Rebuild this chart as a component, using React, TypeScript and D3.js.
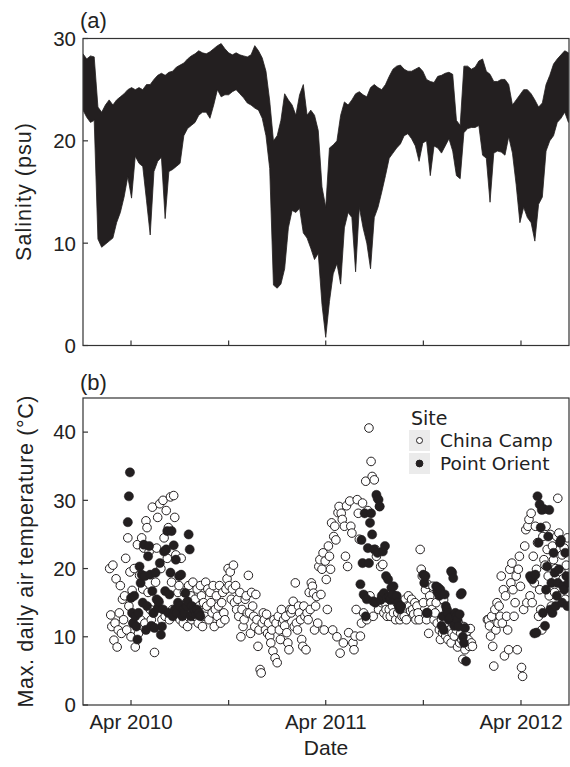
import React from "react";
import * as d3 from "d3";

// ---------- data ----------

// salinity: weekly upper / lower envelope of the high-frequency record
const salinityStart = "2010-01-01";
const salinityStepDays = 7;
const salinityHigh = [
  28.5, 28.0, 28.3, 28.2, 23.3, 22.8, 23.5, 24.0, 23.5, 24.0,
  24.3, 24.6, 25.0, 25.2, 25.0, 25.2, 25.0, 25.5, 25.5, 26.0,
  26.4, 26.6, 26.4, 26.7, 26.8, 27.2, 27.4, 27.6, 28.0, 28.3,
  28.5, 28.8, 28.6, 28.5, 28.7, 29.0, 29.3, 29.5, 29.0, 28.6,
  28.4, 28.6, 28.4, 28.3, 28.2, 28.4, 29.3, 28.8, 28.1, 26.8,
  23.9, 20.0, 20.5, 22.0, 24.6, 24.0, 23.5, 22.5, 24.5, 25.5,
  22.5, 23.0, 22.5, 21.0, 15.5, 13.5, 19.3, 19.6, 20.0, 22.5,
  23.8, 23.5, 24.0, 24.6, 24.8, 24.5, 24.3, 25.2, 25.5, 25.2,
  25.0, 25.5, 26.3, 27.0, 27.3, 27.4, 27.0, 26.8, 26.8, 27.0,
  27.2, 26.8, 26.0, 25.8, 25.7, 26.3, 26.4, 26.6, 26.7, 26.5,
  22.0, 21.5, 27.3, 27.3, 27.0, 27.2, 27.8, 28.0, 26.8, 26.5,
  25.8, 25.8, 26.0, 26.0, 25.5, 23.5, 24.0, 24.5, 25.0, 25.0,
  24.6, 24.0, 23.3, 23.7, 25.5, 26.4, 27.5, 28.0, 28.4, 28.8,
  28.6,
];
const salinityLow = [
  23.0, 22.3, 21.8, 22.0, 10.4, 9.6, 9.9, 10.2, 10.5, 12.0,
  13.0, 14.5, 16.5, 14.4, 18.5, 17.8, 17.5, 14.2, 10.8, 17.0,
  18.0, 18.4, 12.4, 17.0, 17.2, 17.5, 17.8, 20.5, 21.2, 21.5,
  21.8, 22.5, 22.8, 22.8, 22.2, 23.5, 25.0, 24.3, 24.5, 24.5,
  24.8, 25.0, 24.6, 24.2, 23.7, 23.5, 23.2, 23.0, 22.2, 20.5,
  17.3, 5.9, 5.6, 6.0, 7.5, 11.5, 13.2, 13.0, 13.4, 11.0,
  10.5, 9.5, 8.4, 9.0, 4.0, 0.8, 4.3, 7.0, 8.0, 6.0,
  11.5, 13.0, 12.5, 7.2, 13.5, 11.5, 10.0, 7.5, 12.5, 13.5,
  15.0, 16.6, 18.3, 18.8, 19.3, 19.7, 20.5, 20.7, 20.2, 19.5,
  18.0, 19.8, 20.0, 16.6, 19.5, 19.3, 18.8, 19.5, 20.2, 19.0,
  16.6, 16.3, 20.8, 21.2, 21.3, 21.3, 21.5, 18.6, 18.3, 14.0,
  18.8, 19.0, 18.9, 18.6, 20.4, 18.8, 15.7, 12.0, 13.5, 12.5,
  12.0, 10.2, 13.8, 14.5, 19.0, 20.0, 20.5, 21.8, 22.2, 22.8,
  21.8,
];

// max. daily air temperature, China Camp (every 2nd day)
const chinaCampStart = "2010-02-20";
const chinaCamp: (number | null)[] = [
  20.0, 13.2, 11.5, 20.5, 9.5, 12.0, 18.5, 8.5, 11.0, 13.5,
  17.5, 10.5, 15.5, 12.5, 16.0, 21.5, 11.0, 24.5, 14.5, 19.5,
  10.0, 16.8, 12.0, 20.0, 8.5, 13.0, 23.5, 10.5, 19.0, 12.5,
  24.5, 17.0, 23.0, 12.0, 27.0, 26.0, 16.5, 22.5, 14.0, 12.5,
  29.0, 13.5, 7.7, 18.0, 23.0, 27.5, 15.0, 29.5, 20.0, 12.5,
  30.0, 24.5, 13.0, 28.5, 21.5, 26.0, 12.5, 30.5, 18.0, 14.0,
  30.7, 27.5, 22.0, 13.0, 16.5, 17.5, 12.5, 21.5, 14.0, 12.0,
  16.5, 13.5, 15.0, 11.5, 17.5, 14.5, 16.0, 12.5, 18.0, 13.0,
  15.5, 13.0, 17.0, 12.0, 14.5, 17.5, 16.0, 11.5, 15.0, 13.0,
  18.0, 14.5, 17.0, 12.5, 16.5, 15.0, 13.5, 17.5, 11.5, 14.0,
  16.0, 13.0, 14.5, 17.5, 12.0, 15.0, 16.5, 13.5, 12.5, 17.0,
  18.5, 20.0, 17.5, 19.5, 15.5, 17.0, 20.5, 15.0, 17.5, 14.0,
  15.5, 13.0, 16.5, 10.0, 14.0, 11.5, 12.5, 15.5, 16.0, 13.5,
  19.0, 13.5, 10.5, 16.5, 14.5, 13.0, 11.5, 16.2, 12.5, 8.6,
  11.0, 5.2, 4.7, 12.0, 13.5, 12.5, 11.0, 13.3, 10.5, 12.0,
  10.1, 9.1, 11.0, 7.9, 12.5, 6.9, 12.0, 6.2, 13.0, 11.0,
  9.6, 14.0, 12.0, 12.5, 11.6, 13.0, 10.6, 9.1, 8.1, 14.0,
  13.5, 14.0, 15.2, 11.5, 17.9, 12.0, 11.0, 14.5, 13.5, 12.5,
  9.6, 8.6, 14.5, 13.0, 8.1, 13.5, 12.5, 16.5, 14.0, 17.9,
  17.4, 16.4, 11.0, 14.5, 15.9, 12.0, 20.3, 21.3, 16.2, 19.9,
  22.3, 11.0, 21.1, 18.4, 14.0, 23.3, 21.8, 19.9, 26.7, 11.0,
  24.7, 26.2, 24.2, 10.0, 28.2, 29.1, 7.6, 28.1, 27.2, 9.1,
  26.2, 21.8, 29.2, 20.3, 10.6, 29.9, 26.2, 25.2, 9.1, 8.1,
  10.1, 14.0, 30.1, 28.1, 24.3, 10.1, 12.0, 29.6, 13.5, 16.0,
  32.8, 12.5, 28.5, 40.6, 16.0, 35.7, 33.5, 13.0, 33.0, 22.8,
  21.8, 30.3, 14.0, 29.1, 20.3, 15.0, 20.6, 13.5, 15.0, 14.0,
  13.0, 16.2, 14.0, 13.0, 15.5, 14.5, 13.5, 16.0, 12.5, 15.0,
  13.5, 14.5, 12.5, 15.0, 13.0, 14.0, 13.0, 15.5, 12.5, 14.5,
  16.0, 14.5, 13.8, 15.5, 14.0, 13.3, 15.0, 12.5, 14.5, 13.5,
  12.5, 22.8, 19.9, 18.9, 15.0, 17.9, 16.9, 12.5, 17.7, 10.5,
  16.0, 15.0, 14.0, 17.4, 12.5, 13.5, 15.0, 12.0, 16.4, 11.0,
  9.6, 12.5, 10.6, 15.4, 12.0, 10.1, 14.0, 9.6, 12.5, 11.0,
  9.1, 10.5, 13.0, 10.1, 11.5, 11.0, 8.5, 12.0, 9.1, 10.5,
  9.6, 6.7, 11.5, 8.1, 10.5, 10.8, 9.6, 8.6, 11.2, 9.1,
  8.6, null, null, null, null, null, null, null, null, null,
  null, null, null, null, 12.5, 12.5, 11.6, 10.1, 13.0, 8.6,
  5.7, 14.0, 11.0, 15.0, 12.0, 14.5, 13.0, 18.9, 12.0, 16.9,
  7.2, 16.0, 13.0, 11.0, 8.1, 19.9, 17.9, 20.8, 16.9, 13.0,
  15.0, 18.9, 8.1, 19.9, 21.8, 17.4, 5.5, 4.2, 14.0, 23.3,
  25.7, 15.0, 26.2, 27.2, 16.0, 28.1, 15.0, 21.8, 17.9, 26.2,
  19.9, 23.8, 13.0, 16.9, 14.0, 11.0, 24.7, 21.3, 20.5, 26.2,
  22.8, 18.9, 16.0, 25.0, 14.5, 23.3, 21.3, 16.5, 20.0, 24.7,
  30.3, 25.2, 16.0, 19.5, 22.0, 18.5, 23.0, 15.5, 20.5, 24.5,
];

// max. daily air temperature, Point Orient (every 2nd day, four deployments)
const pointOrient2010Start = "2010-03-26";
const pointOrient2010 = [
  26.8, 30.6, 34.1, 15.7, 13.5, 12.0, 16.0, 13.0, 11.5, 9.6,
  13.5, 20.3, 17.9, 19.1, 15.0, 23.5, 18.9, 11.0, 14.5, 21.8,
  23.3, 19.1, 11.6, 16.7, 13.5, 11.3, 19.4, 15.5, 14.2, 15.2,
  20.8, 10.3, 11.5, 14.0, 22.5, 16.7, 22.8, 25.5, 13.5, 16.2,
  19.4, 25.5, 13.0, 23.4, 14.0, 21.3, 13.5, 15.0, 18.9, 14.5,
  19.1, 13.0, 14.0, 13.5, 16.4, 14.5, 15.2, 25.0, 22.8, 13.0,
  14.5, 13.5, 14.0, 13.8, 13.3, 14.0, 13.3, 13.5, 13.0,
];
const pointOrient2011aStart = "2011-06-05";
const pointOrient2011a = [
  17.7, 24.2, 20.8, 16.2, 28.1, 13.0, 15.5, 23.0, 20.8, 26.7,
  28.1, 25.0, 15.2, 22.8, 15.0, 30.8, 22.3, 30.1, 29.1, 15.4,
  16.0, 22.5, 16.4, 23.3, 18.9, 15.7, 18.4, 15.9, 15.4, 17.2,
  16.2, 17.4, 15.5, 15.4, 16.0, 15.0, 14.5, 14.0, 14.5,
];
const pointOrient2011bStart = "2011-10-01";
const pointOrient2011b: (number | null)[] = [
  19.1, 17.9, 18.9, 13.5, 13.5, null, null, null, null, null,
  null, null, 17.4, 16.7, 17.2, 16.0, 16.9, 11.6, 13.0, 11.0,
  16.2, 14.5, 14.0, 13.5, 12.5, 12.8, 19.6, 19.4, 18.6, 11.6,
  13.5, 13.0, 12.5, 11.5, 13.3, 16.2, 16.4, 10.0, 9.1, 11.3,
  6.4,
];
const pointOrient2012Start = "2012-04-18";
const pointOrient2012 = [
  18.9, 18.6, 18.4, 18.9, 10.5, 19.1, 10.6, 30.6, 23.8, 29.4,
  26.0, 28.6, 13.5, 28.7, 11.6, 16.9, 20.3, 24.7, 28.6, 14.0,
  17.9, 13.5, 22.3, 19.4, 14.5, 16.0, 17.9, 19.9, 23.8, 24.2,
  15.0, 17.4, 16.9, 22.3, 18.9, 14.5, 17.9,
];

const dateDomain = ["2010-01-01", "2012-06-30"];
const dateTicks = ["2010-04-01", "2010-10-01", "2011-04-01", "2011-10-01", "2012-04-01"];
const dateTickLabels = ["Apr 2010", "", "Apr 2011", "", "Apr 2012"];
const salinityTicks = [0, 10, 20, 30];
const temperatureTicks = [0, 10, 20, 30, 40];
const legendSites = ["China Camp", "Point Orient"];

// ---------- helpers ----------
const parse = d3.timeParse("%Y-%m-%d");

type Pt = { date: Date; value: number };
function toSeries(start: string, stepDays: number, values: (number | null)[]): Pt[] {
  const t0 = parse(start) as Date;
  const out: Pt[] = [];
  values.forEach((v, i) => {
    if (v != null) out.push({ date: d3.timeDay.offset(t0, i * stepDays), value: v });
  });
  return out;
}

const INK = "#231f20";
const TEXT = "#222";
const SANS = "'Liberation Sans', Arial, Helvetica, sans-serif";

const App = () => {
  const width = 570;
  const height = 767;
  const left = 83;
  const right = 569;
  const panelA = { top: 38.5, bottom: 345.5 };
  const panelB = { top: 398, bottom: 705 };

  const x = d3
    .scaleTime()
    .domain(dateDomain.map((d) => parse(d) as Date))
    .range([left, right]);

  const yA = d3.scaleLinear().domain([0, 30]).range([panelA.bottom, panelA.top]);
  const yB = d3.scaleLinear().domain([0, 45]).range([panelB.bottom, panelB.top]);

  const sal0 = parse(salinityStart) as Date;
  const salinity = salinityHigh.map((hi, i) => ({
    date: d3.timeDay.offset(sal0, i * salinityStepDays),
    hi,
    lo: salinityLow[i],
  }));
  const salArea = d3
    .area<{ date: Date; hi: number; lo: number }>()
    .x((d) => x(d.date))
    .y0((d) => yA(d.lo))
    .y1((d) => yA(d.hi));

  const cc = toSeries(chinaCampStart, 2, chinaCamp);
  const po = [
    ...toSeries(pointOrient2010Start, 2, pointOrient2010),
    ...toSeries(pointOrient2011aStart, 2, pointOrient2011a),
    ...toSeries(pointOrient2011bStart, 2, pointOrient2011b),
    ...toSeries(pointOrient2012Start, 2, pointOrient2012),
  ];

  const ticks = dateTicks.map((d) => parse(d) as Date);
  const tickLen = 5;

  const frame = (top: number, bottom: number) => (
    <rect
      x={left}
      y={top}
      width={right - left}
      height={bottom - top}
      fill="none"
      stroke="#333"
      strokeWidth={1.2}
    />
  );

  return (
    <svg
      width={width}
      height={height}
      style={{ position: "absolute", left: 0, top: 0, background: "#fff" }}
      fontFamily={SANS}
    >
      <defs>
        <clipPath id="clipA">
          <rect x={left} y={panelA.top} width={right - left} height={panelA.bottom - panelA.top} />
        </clipPath>
        <clipPath id="clipB">
          <rect x={left} y={panelB.top} width={right - left} height={panelB.bottom - panelB.top} />
        </clipPath>
      </defs>
      <rect width={width} height={height} fill="#fff" />

      {/* ---- panel (a) ---- */}
      <text x={80} y={28} fontSize={22} fill={TEXT}>(a)</text>
      <g clipPath="url(#clipA)">
        <path d={salArea(salinity) || ""} fill={INK} stroke={INK} strokeWidth={0.8} />
      </g>
      {frame(panelA.top, panelA.bottom)}
      {salinityTicks.map((t) => (
        <g key={"sa" + t}>
          <line x1={left} x2={left + tickLen} y1={yA(t)} y2={yA(t)} stroke="#333" strokeWidth={1.2} />
          <text x={76} y={yA(t)} dy="0.36em" textAnchor="end" fontSize={20.5} fill={TEXT}>{t}</text>
        </g>
      ))}
      {ticks.map((t, i) => (
        <line key={"xa" + i} x1={x(t)} x2={x(t)} y1={panelA.bottom} y2={panelA.bottom - tickLen} stroke="#333" strokeWidth={1.2} />
      ))}
      <text
        transform={`translate(31,${(panelA.top + panelA.bottom) / 2}) rotate(-90)`}
        textAnchor="middle"
        fontSize={21.5}
        textLength={138}
        lengthAdjust="spacing"
        fill={TEXT}
      >
        Salinity (psu)
      </text>

      {/* ---- panel (b) ---- */}
      <text x={80} y={390} fontSize={22} fill={TEXT}>(b)</text>
      <g clipPath="url(#clipB)">
        {cc.map((d, i) => (
          <circle key={"cc" + i} cx={x(d.date)} cy={yB(d.value)} r={4.3} fill="#fff" stroke={INK} strokeWidth={1} />
        ))}
        {po.map((d, i) => (
          <circle key={"po" + i} cx={x(d.date)} cy={yB(d.value)} r={4.6} fill={INK} stroke={INK} strokeWidth={0.5} />
        ))}
      </g>
      {frame(panelB.top, panelB.bottom)}
      {temperatureTicks.map((t) => (
        <g key={"sb" + t}>
          <line x1={left} x2={left + tickLen} y1={yB(t)} y2={yB(t)} stroke="#333" strokeWidth={1.2} />
          <text x={76} y={yB(t)} dy="0.36em" textAnchor="end" fontSize={20.5} fill={TEXT}>{t}</text>
        </g>
      ))}
      {ticks.map((t, i) => (
        <g key={"xb" + i}>
          <line x1={x(t)} x2={x(t)} y1={panelB.bottom} y2={panelB.bottom - tickLen} stroke="#333" strokeWidth={1.2} />
          <text x={x(t)} y={729} textAnchor="middle" fontSize={20.5} fill={TEXT}>{dateTickLabels[i]}</text>
        </g>
      ))}
      <text
        transform={`translate(33,${(panelB.top + panelB.bottom) / 2}) rotate(-90)`}
        textAnchor="middle"
        fontSize={21.5}
        textLength={312}
        lengthAdjust="spacing"
        fill={TEXT}
      >
        Max. daily air temperature (°C)
      </text>
      <text x={(left + right) / 2} y={755} textAnchor="middle" fontSize={21} fill={TEXT}>Date</text>

      {/* ---- legend ---- */}
      <g fontFamily="'DejaVu Sans', sans-serif" fill={TEXT}>
        <text x={411} y={425} fontSize={19}>Site</text>
        {legendSites.map((s, i) => (
          <g key={s} transform={`translate(409,${430 + i * 23})`}>
            <rect width={21} height={21} fill="#ebebeb" />
            <circle cx={10.5} cy={10.5} r={i === 0 ? 3 : 3.4} fill={i === 0 ? "#fff" : INK} stroke={INK} strokeWidth={1} />
            <text x={31} y={17} fontSize={18.5}>{s}</text>
          </g>
        ))}
      </g>
    </svg>
  );
};

export default App;
